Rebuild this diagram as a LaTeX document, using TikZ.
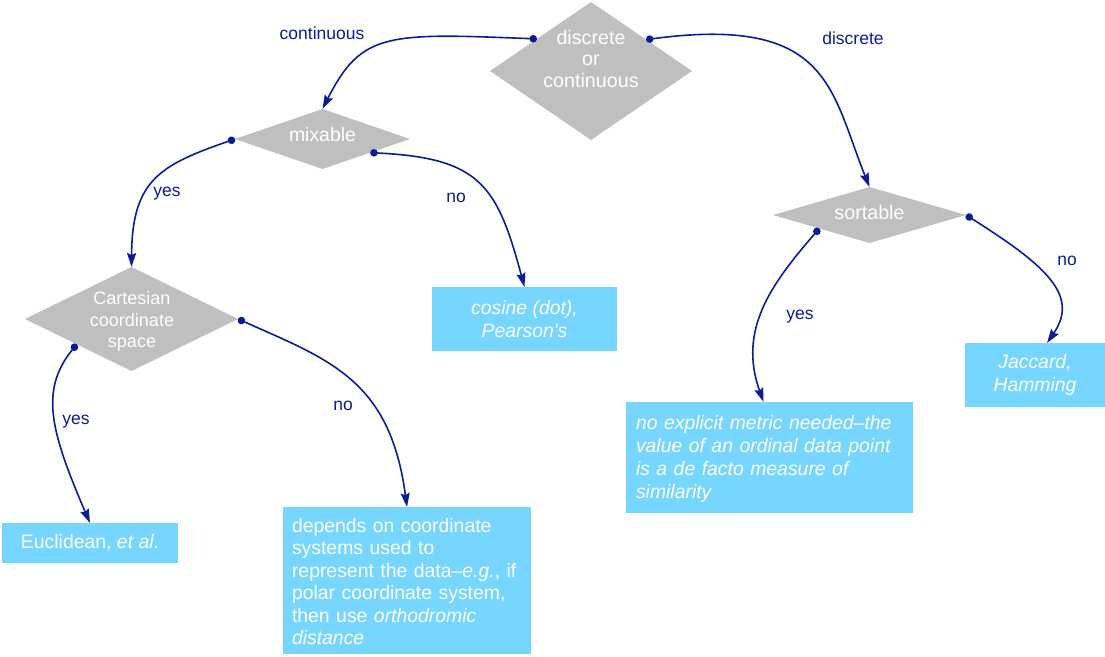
\documentclass[tikz,border=0pt]{standalone}
\usepackage{fontspec}
\setmainfont{Liberation Sans}[Ligatures=TeXOff]
\usetikzlibrary{shapes.geometric,arrows.meta,calc}

\definecolor{flowblue}{RGB}{12,28,150}
\definecolor{decgray}{RGB}{191,191,191}
\definecolor{leafblue}{RGB}{118,214,255}

\tikzset{
  decision/.style={diamond, fill=decgray, inner sep=0pt, outer sep=0pt},
  dectext/.style={text=white, align=center, inner sep=0pt},
  leaf/.style={rectangle, fill=leafblue, text=white, inner ysep=0pt, outer sep=0pt,
    font=\fontsize{19.4}{23}\selectfont},
  branch/.style={text=flowblue, inner sep=0pt, anchor=base,
    font=\fontsize{17.5}{20}\selectfont},
  flow/.style={draw=flowblue, line width=1.6pt,
    arrows={Circle[length=7.5pt]-Stealth[length=14pt,width=9pt,inset=2pt]}},
}

\begin{document}
\begin{tikzpicture}[x=1pt,y=-1pt]
\useasboundingbox (0,0) rectangle (1105,656);

% decisions
\node[decision, minimum width=202pt, minimum height=138pt] (dc) at (591,71) {};
\node[dectext, font=\fontsize{19.7}{21.5}\selectfont] (dct) at (591,58.5) {discrete\\or\\continuous};

\node[decision, minimum width=175pt, minimum height=60pt] (mx) at (322.5,139) {};
\node[dectext, anchor=base, font=\fontsize{19.4}{23}\selectfont] (mxt) at (322.5,141) {mixable};

\node[decision, minimum width=213pt, minimum height=104pt] (cs) at (131.5,319) {};
\node[dectext, font=\fontsize{18}{21.5}\selectfont] (cst) at (132,321.5) {Cartesian\\coordinate\\space};

\node[decision, minimum width=193pt, minimum height=56pt] (so) at (869.5,215) {};
\node[dectext, anchor=base, font=\fontsize{19.7}{23}\selectfont] (sot) at (869.5,219) {sortable};

% outcomes
\node[leaf, minimum width=185pt, minimum height=64pt, align=center] (cosbox) at (524.5,319)
  {\textit{cosine (dot),}\\\textit{Pearson's}};
\node[leaf, minimum width=140pt, minimum height=64pt, align=center] (jacbox) at (1035,375)
  {\textit{Jaccard,}\\\textit{Hamming}};
\node[leaf, text width=267pt, inner xsep=10pt, minimum height=111pt, align=left,
  font=\fontsize{19.4}{23}\selectfont\itshape] (ordbox) at (769.5,457.5)
  {\rule{0pt}{18pt}no explicit metric needed–the\\value of an ordinal data point\\is a de facto measure of\\similarity};
\node[leaf, text width=230pt, inner xsep=9pt, minimum height=147pt, align=left,
  font=\fontsize{19.4}{22.4}\selectfont] (depbox) at (407,580.5)
  {\rule{0pt}{16pt}depends on coordinate\\systems used to\\represent the data–\textit{e.g.}, if\\polar coordinate system,\\then use \textit{orthodromic}\\\textit{distance}};
\node[leaf, minimum width=176pt, minimum height=40pt] (eucbox) at (90,543)
  {Euclidean, \textit{et al}.};

% connector start points on the diamond borders
\coordinate (dcl) at ($(dc.west)!0.465!(dc.north)$);
\coordinate (dcr) at ($(dc.north)!0.545!(dc.east)$);
\coordinate (mxr) at ($(mx.east)!0.455!(mx.south)$);
\coordinate (csl) at ($(cs.west)!0.486!(cs.south)$);
\coordinate (sol) at ($(so.west)!0.48!(so.south)$);

% connectors
\draw[flow] (dcl) .. controls +(-150,-6) and +(39,-77) .. (mx.north);
\draw[flow] (mx.west) .. controls +(-75,26) and +(0.5,-87) .. (cs.north);
\draw[flow] (mxr) .. controls +(110,5.3) and +(-27.5,-102) .. (cosbox.north);
\draw[flow] (dcr) .. controls +(184,-24.6) and +(-39,-97) .. (so.north);
\draw[flow] (sol) .. controls +(-49,56.6) and +(-25.5,-72) .. ([xshift=-6pt]ordbox.north);
\draw[flow] (so.east) .. controls +(79,50) and +(33,-48) .. ([xshift=12pt]jacbox.north);
\draw[flow] (csl) .. controls +(-37,45.7) and +(-40,-93) .. (eucbox.north);
\draw[flow] (cs.east) .. controls +(92,41) and +(-17,-127) .. (depbox.north);

% branch labels
\node[branch] (lcont) at (322,39) {continuous};
\node[branch] (ldisc) at (853,44) {discrete};
\node[branch] (lmxy) at (167,196) {yes};
\node[branch] (lmxn) at (456,202) {no};
\node[branch] (lsoy) at (800,319) {yes};
\node[branch] (lson) at (1067,265) {no};
\node[branch] (lcsy) at (76,424) {yes};
\node[branch] (lcsn) at (343,410) {no};
\end{tikzpicture}
\end{document}
